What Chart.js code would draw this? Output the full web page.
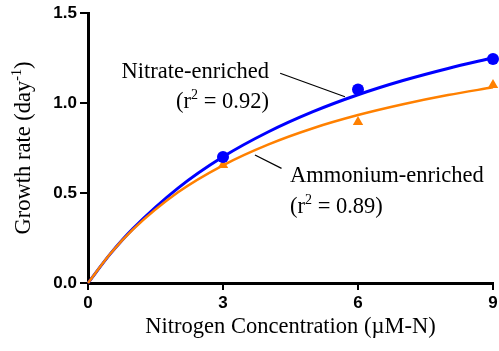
<!DOCTYPE html>
<html>
<head>
<meta charset="utf-8">
<script src="https://cdn.jsdelivr.net/npm/chart.js@4.4.1/dist/chart.umd.min.js"></script>
<style>
  html, body { margin: 0; padding: 0; background: #fff; }
  #wrap { width: 499px; height: 351px; }
</style>
</head>
<body>
<div id="wrap"><canvas id="chart"></canvas></div>
<script>
/* ---- data ---- */
const fitX = [0, 0.5, 1, 2, 3, 4, 5, 6, 7, 8, 9];
const nitrateFit = [0, 0.163, 0.302, 0.527, 0.701, 0.839, 0.952, 1.046, 1.125, 1.192, 1.251];
const ammoniumFit = [0, 0.164, 0.298, 0.504, 0.654, 0.769, 0.860, 0.933, 0.993, 1.044, 1.087];
const sampleX = [3, 6, 9];
const nitrateObs = [0.70, 1.075, 1.245];
const ammoniumObs = [0.655, 0.895, 1.10];
const xTicks = [0, 3, 6, 9];
const yTicks = [0, 0.5, 1.0, 1.5];
const nitrateR2 = "0.92";
const ammoniumR2 = "0.89";

const BLUE = "#0000ff";
const ORANGE = "#ff8000";
const SERIF = "'Liberation Serif', 'Times New Roman', serif";
const SANS = "'Liberation Sans', Arial, sans-serif";

const pts = (xs, ys) => xs.map((x, i) => ({ x, y: ys[i] }));

// curve labels, anchored in data units
const notes = [
  { name: "Nitrate-enriched", r2: nitrateR2, x: 4.02, y: 1.14, y2: 0.972, align: "right", lead: [4.27, 1.165, 5.71, 1.035] },
  { name: "Ammonium-enriched", r2: ammoniumR2, x: 4.49, y: 0.561, y2: 0.389, align: "left", lead: [3.71, 0.711, 4.30, 0.637] }
];

function drawR2(ctx, x, y, val, align) {
  const big = "22.5px " + SERIF, small = "14px " + SERIF;
  ctx.font = big; const w1 = ctx.measureText("(r").width;
  ctx.font = small; const w2 = ctx.measureText("2").width;
  ctx.font = big; const w3 = ctx.measureText(" = " + val + ")").width;
  let sx = align === "right" ? x - (w1 + w2 + w3) : x;
  ctx.textAlign = "left";
  ctx.fillText("(r", sx, y);
  ctx.font = small; ctx.fillText("2", sx + w1, y - 9);
  ctx.font = big; ctx.fillText(" = " + val + ")", sx + w1 + w2, y);
}

const textPlugin = {
  id: "texts",
  afterDraw(chart) {
    const { ctx, chartArea, scales } = chart;
    const sx = scales.x, sy = scales.y;
    ctx.save();
    ctx.fillStyle = "#000";
    ctx.textBaseline = "alphabetic";

    // x title
    ctx.font = "22.5px " + SERIF;
    ctx.textAlign = "center";
    ctx.fillText("Nitrogen Concentration (\u00b5M-N)", (chartArea.left + chartArea.right) / 2, 333);

    // y title with superscript
    ctx.translate(30, (chartArea.top + chartArea.bottom) / 2);
    ctx.rotate(-Math.PI / 2);
    const a = "Growth rate (day", b = "-1", c = ")";
    ctx.font = "22.5px " + SERIF; const wa = ctx.measureText(a).width, wc = ctx.measureText(c).width;
    ctx.font = "14px " + SERIF; const wb = ctx.measureText(b).width;
    let x0 = -(wa + wb + wc) / 2;
    ctx.textAlign = "left";
    ctx.font = "22.5px " + SERIF; ctx.fillText(a, x0, 0);
    ctx.font = "14px " + SERIF; ctx.fillText(b, x0 + wa, -9);
    ctx.font = "22.5px " + SERIF; ctx.fillText(c, x0 + wa + wb, 0);
    ctx.setTransform(1, 0, 0, 1, 0, 0);

    // curve labels and leader lines
    notes.forEach(n => {
      ctx.font = "22.5px " + SERIF;
      ctx.textAlign = n.align;
      const px = sx.getPixelForValue(n.x);
      ctx.fillText(n.name, px, sy.getPixelForValue(n.y));
      drawR2(ctx, px, sy.getPixelForValue(n.y2), n.r2, n.align);
      ctx.beginPath();
      ctx.lineWidth = 1.2;
      ctx.strokeStyle = "#000";
      ctx.moveTo(sx.getPixelForValue(n.lead[0]), sy.getPixelForValue(n.lead[1]));
      ctx.lineTo(sx.getPixelForValue(n.lead[2]), sy.getPixelForValue(n.lead[3]));
      ctx.stroke();
    });
    ctx.restore();
  }
};

const axisCommon = {
  border: { display: true, color: "#000", width: 3 },
  grid: { drawOnChartArea: false, drawTicks: true, tickLength: 8, color: "#000", lineWidth: 2 },
  ticks: { color: "#000", font: { family: SANS, size: 17, weight: "bold" }, padding: 3 }
};

new Chart(document.getElementById("chart"), {
  type: "scatter",
  data: {
    datasets: [
      { label: "Nitrate fit", type: "line", data: pts(fitX, nitrateFit), borderColor: BLUE, borderWidth: 3,
        pointRadius: 0, cubicInterpolationMode: "monotone", fill: false, order: 4, clip: false },
      { label: "Ammonium fit", type: "line", data: pts(fitX, ammoniumFit), borderColor: ORANGE, borderWidth: 2.5,
        pointRadius: 0, cubicInterpolationMode: "monotone", fill: false, order: 3, clip: false },
      { label: "Ammonium-enriched", data: pts(sampleX, ammoniumObs), pointStyle: "triangle", pointRadius: 6,
        backgroundColor: ORANGE, borderColor: ORANGE, borderWidth: 0, order: 2, clip: false },
      { label: "Nitrate-enriched", data: pts(sampleX, nitrateObs), pointStyle: "circle", pointRadius: 6,
        backgroundColor: BLUE, borderColor: BLUE, borderWidth: 0, order: 1, clip: false }
    ]
  },
  options: {
    responsive: true,
    maintainAspectRatio: false,
    animation: false,
    layout: { padding: { top: 13, right: 6, left: 0, bottom: 0 } },
    plugins: { legend: { display: false }, tooltip: { enabled: false } },
    scales: {
      x: {
        ...axisCommon, type: "linear", min: 0, max: 9,
        afterBuildTicks: s => { s.ticks = xTicks.map(v => ({ value: v })); },
        afterFit: s => { s.height = 68; s.paddingLeft = 0; s.paddingRight = 0; },
        grid: { ...axisCommon.grid, tickLength: 7 }
      },
      y: {
        ...axisCommon, type: "linear", min: 0, max: 1.5,
        afterBuildTicks: s => { s.ticks = yTicks.map(v => ({ value: v })); },
        afterFit: s => { s.width = 88; s.paddingTop = 0; s.paddingBottom = 0; },
        ticks: { ...axisCommon.ticks, callback: v => Number(v).toFixed(1) }
      }
    }
  },
  plugins: [textPlugin]
});
</script>
</body>
</html>
